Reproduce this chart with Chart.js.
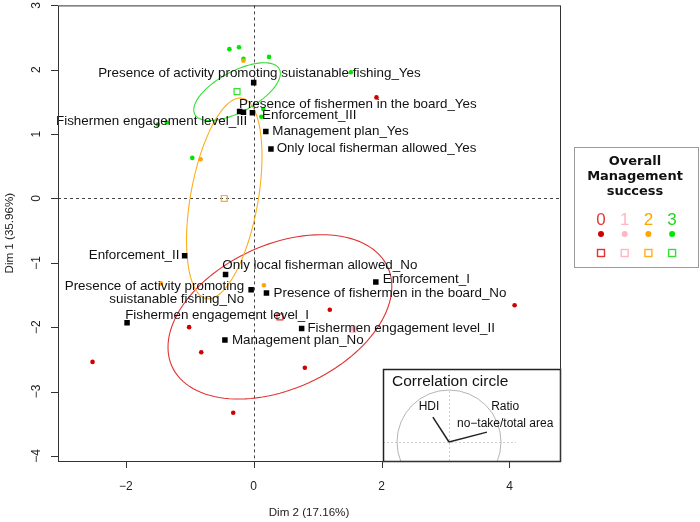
<!DOCTYPE html>
<html>
<head>
<meta charset="utf-8">
<script src="https://cdn.jsdelivr.net/npm/chart.js@4.4.1/dist/chart.umd.min.js"></script>
<style>
  html, body { margin: 0; padding: 0; background: #fff; }
  #wrap { width: 700px; height: 522px; }
</style>
</head>
<body>
<div id="wrap"><canvas id="mca"></canvas></div>
<script>
// ── Individuals (Dim 2 = x, Dim 1 = y), one pair of arrays per success group ──
const groups = ['0', '1', '2', '3'];

const ind0Dim2 = [1.92, 1.19, 4.08, -1.01, -0.82, -2.52, 0.80, -0.32];
const ind0Dim1 = [1.57, -1.73, -1.66, -2.00, -2.39, -2.54, -2.63, -3.33];
const ind1Dim2 = [1.55];
const ind1Dim1 = [-2.03];
const ind2Dim2 = [-0.16, -0.83, -1.45, 0.16];
const ind2Dim1 = [2.14, 0.61, -1.32, -1.35];
const ind3Dim2 = [-0.38, -0.23, -0.16, 0.24, 1.52, 0.15, 0.12, -1.36, -1.50, -0.96];
const ind3Dim1 = [2.32, 2.35, 2.17, 2.20, 1.96, 1.39, 1.27, 1.18, 1.15, 0.63];

// group centroids (hollow squares) and confidence ellipses (half extents + correlation)
const centroidDim2 = [0.41, 1.55, -0.46, -0.26];
const centroidDim1 = [-1.84, -2.03, 0.00, 1.66];
const ellipseHalfDim2 = [1.75, null, 0.59, 0.677];
const ellipseHalfDim1 = [1.277, null, 1.56, 0.449];
const ellipseCorr = [0.37, null, 0.42, 0.63];

// ── Variable categories ──
const catNames = [
  'Presence of activity promoting suistanable fishing_Yes',
  'Fishermen engagement level_III',
  'Presence of fishermen in the board_Yes',
  'Enforcement_III',
  'Management plan_Yes',
  'Only local fisherman allowed_Yes',
  'Enforcement_II',
  'Only local fisherman allowed_No',
  'Presence of activity promoting\nsuistanable fishing_No',
  'Presence of fishermen in the board_No',
  'Enforcement_I',
  'Fishermen engagement level_I',
  'Fishermen engagement level_II',
  'Management plan_No',
];
const catDim2 = [0.00, -0.22, -0.16, -0.02, 0.19, 0.27, -1.08, -0.44, -0.04, 0.20, 1.91, -1.98, 0.75, -0.45];
const catDim1 = [1.80, 1.35, 1.34, 1.33, 1.04, 0.77, -0.89, -1.18, -1.42, -1.47, -1.30, -1.93, -2.02, -2.20];
// where each label was put (data units), as the label placer left them
const labelDim2 = [0.09, -0.10, -0.23, 0.13, 0.29, 0.36, -1.16, -0.49, -0.15, 0.31, 2.02, -2.01, 0.84, -0.34];
const labelDim1 = [1.94, 1.20, 1.47, 1.29, 1.04, 0.78, -0.89, -1.04, -1.47, -1.48, -1.26, -1.82, -2.02, -2.20];
const labelAlign = ['center', 'right', 'left', 'left', 'left', 'left', 'right', 'left', 'right', 'left', 'left', 'left', 'left', 'left'];

// ── Correlation circle ──
const corrNames = ['HDI', 'Ratio\nno\u2212take/total area'];
const corrDim2 = [-0.31, 0.73];
const corrDim1 = [0.48, 0.19];
const corrLabelDim2 = [-0.385, 1.08];
const corrLabelDim1 = [0.673, 0.51];

// ── Axes ──
const xTicks = [-2, 0, 2, 4];
const yTicks = [-4, -3, -2, -1, 0, 1, 2, 3];
const xTitle = 'Dim 2 (17.16%)';
const yTitle = 'Dim 1 (35.96%)';
const legendTitle = ['Overall', 'Management', 'success'];

// ─────────────────────────────────────────────────────────────────────────────

const FONT = '"Liberation Sans", Arial, sans-serif';
const DOT_COLORS = ['#d10000', '#ffb6c1', '#ffa500', '#00e600'];
const LINE_COLORS = ['#e03333', '#ffb6c1', '#ffae1a', '#33e033'];
const NUM_COLORS = ['#e03a3a', '#ffb6c1', '#ffa500', '#22d622'];

const pts = (xs, ys) => xs.map((v, i) => ({ x: v, y: ys[i] }));
const indDim2 = [ind0Dim2, ind1Dim2, ind2Dim2, ind3Dim2];
const indDim1 = [ind0Dim1, ind1Dim1, ind2Dim1, ind3Dim1];

const datasets = [
  {
    label: 'categories',
    data: pts(catDim2, catDim1),
    pointStyle: 'rect',
    pointRadius: 3.9,
    backgroundColor: '#000',
    borderColor: '#000',
    borderWidth: 0,
  },
  ...groups.map((g, i) => ({
    label: 'centroid ' + g,
    data: [{ x: centroidDim2[i], y: centroidDim1[i] }],
    pointStyle: 'rect',
    pointRadius: 4.2,
    backgroundColor: 'rgba(0,0,0,0)',
    borderColor: LINE_COLORS[i],
    borderWidth: 1.2,
  })),
  ...groups.map((g, i) => ({
    label: 'group ' + g,
    data: pts(indDim2[i], indDim1[i]),
    pointStyle: 'circle',
    pointRadius: 2.3,
    backgroundColor: DOT_COLORS[i],
    borderWidth: 0,
  })),
];

function drawText(ctx, text, x, y, align, lh) {
  const lines = text.split('\n');
  ctx.textAlign = align;
  lines.forEach((l, k) => ctx.fillText(l, x, y + (k - (lines.length - 1) / 2) * lh));
}

const background = {
  id: 'background',
  beforeDatasetsDraw(chart) {
    const { ctx, chartArea: a, scales: { x, y } } = chart;
    ctx.save();
    ctx.strokeStyle = '#444';
    ctx.lineWidth = 1;
    ctx.setLineDash([3, 3]);
    const x0 = Math.round(x.getPixelForValue(0)) + 0.5;
    const y0 = Math.round(y.getPixelForValue(0)) + 0.5;
    ctx.beginPath();
    ctx.moveTo(x0, a.top); ctx.lineTo(x0, a.bottom);
    ctx.moveTo(a.left, y0); ctx.lineTo(a.right, y0);
    ctx.stroke();
    ctx.setLineDash([]);

    ellipseHalfDim2.forEach((hx, g) => {
      if (hx == null) return;
      const hy = ellipseHalfDim1[g], r = ellipseCorr[g], s = Math.sqrt(1 - r * r);
      ctx.strokeStyle = LINE_COLORS[g];
      ctx.lineWidth = 1.1;
      ctx.beginPath();
      for (let i = 0; i <= 120; i++) {
        const t = i / 120 * 2 * Math.PI;
        const px = x.getPixelForValue(centroidDim2[g] + hx * Math.cos(t));
        const py = y.getPixelForValue(centroidDim1[g] + hy * (r * Math.cos(t) + s * Math.sin(t)));
        i ? ctx.lineTo(px, py) : ctx.moveTo(px, py);
      }
      ctx.closePath();
      ctx.stroke();
    });
    ctx.restore();
  },
};

const annotations = {
  id: 'annotations',
  afterDatasetsDraw(chart) {
    const { ctx, chartArea: a, scales: { x, y } } = chart;
    ctx.save();

    // category labels
    ctx.fillStyle = '#111';
    ctx.font = '13.4px ' + FONT;
    ctx.textBaseline = 'middle';
    catNames.forEach((name, i) => {
      drawText(ctx, name, x.getPixelForValue(labelDim2[i]), y.getPixelForValue(labelDim1[i]), labelAlign[i], 12.8);
    });

    // correlation circle inset
    const bx = 383, by = 369;
    ctx.save();
    ctx.beginPath();
    ctx.rect(bx, by, a.right - bx, a.bottom - by);
    ctx.clip();
    ctx.fillStyle = '#fff';
    ctx.fillRect(bx, by, a.right - bx, a.bottom - by);
    const cx = 449, cy = 442, R = 52;
    ctx.strokeStyle = '#cfcfcf';
    ctx.lineWidth = 1;
    ctx.setLineDash([2, 2]);
    ctx.beginPath();
    ctx.moveTo(bx, cy + 0.5); ctx.lineTo(cx + 67, cy + 0.5);
    ctx.moveTo(cx + 0.5, by + 22); ctx.lineTo(cx + 0.5, a.bottom);
    ctx.stroke();
    ctx.setLineDash([]);
    ctx.strokeStyle = '#b5b5b5';
    ctx.beginPath();
    ctx.arc(cx, cy, R, 0, 2 * Math.PI);
    ctx.stroke();
    ctx.strokeStyle = '#222';
    ctx.lineWidth = 1.5;
    corrNames.forEach((n, i) => {
      ctx.beginPath();
      ctx.moveTo(cx, cy);
      ctx.lineTo(cx + corrDim2[i] * R, cy - corrDim1[i] * R);
      ctx.stroke();
    });
    ctx.fillStyle = '#111';
    ctx.font = '12px ' + FONT;
    ctx.textBaseline = 'middle';
    corrNames.forEach((n, i) => {
      drawText(ctx, n, cx + corrLabelDim2[i] * R, cy - corrLabelDim1[i] * R, 'center', 17);
    });
    ctx.font = '15.5px ' + FONT;
    ctx.textAlign = 'left';
    ctx.fillText('Correlation circle', bx + 9, by + 12.5);
    ctx.restore();
    ctx.strokeStyle = '#222';
    ctx.lineWidth = 1.5;
    ctx.strokeRect(bx + 0.5, by + 0.5, a.right - bx, a.bottom - by);

    // plot frame, ticks, tick labels, titles
    ctx.strokeStyle = '#333';
    ctx.lineWidth = 1;
    ctx.strokeRect(a.left + 0.5, a.top + 0.5, a.right - a.left, a.bottom - a.top);
    ctx.beginPath();
    xTicks.forEach(v => {
      const p = Math.round(x.getPixelForValue(v)) + 0.5;
      ctx.moveTo(p, a.bottom); ctx.lineTo(p, a.bottom + 7);
    });
    yTicks.forEach(v => {
      const p = Math.round(y.getPixelForValue(v)) + 0.5;
      ctx.moveTo(a.left, p); ctx.lineTo(a.left - 7, p);
    });
    ctx.stroke();

    ctx.fillStyle = '#222';
    ctx.font = '12px ' + FONT;
    ctx.textAlign = 'center';
    ctx.textBaseline = 'middle';
    const fmt = v => (v < 0 ? '\u2212' + Math.abs(v) : String(v));
    xTicks.forEach(v => ctx.fillText(fmt(v), x.getPixelForValue(v), a.bottom + 26));
    yTicks.forEach(v => {
      ctx.save();
      ctx.translate(a.left - 21, y.getPixelForValue(v));
      ctx.rotate(-Math.PI / 2);
      ctx.fillText(fmt(v), 0, 0);
      ctx.restore();
    });
    ctx.font = '11.6px ' + FONT;
    ctx.fillText(xTitle, (a.left + a.right) / 2, a.bottom + 52);
    ctx.save();
    ctx.translate(10, (a.top + a.bottom) / 2);
    ctx.rotate(-Math.PI / 2);
    ctx.fillText(yTitle, 0, 0);
    ctx.restore();

    // legend box
    const lx = 574, ly = 147, lw = 124, lh = 120, mid = lx + lw / 2 - 1;
    ctx.strokeStyle = '#9a9a9a';
    ctx.lineWidth = 1;
    ctx.strokeRect(lx + 0.5, ly + 0.5, lw, lh);
    ctx.fillStyle = '#111';
    ctx.font = 'bold 13px "DejaVu Sans", Verdana, sans-serif';
    legendTitle.forEach((t, k) => ctx.fillText(t, mid, ly + 15 + k * 15));
    groups.forEach((g, i) => {
      const gx = 601 + i * 23.7;
      ctx.fillStyle = NUM_COLORS[i];
      ctx.font = '17px ' + FONT;
      ctx.fillText(g, gx, 220);
      ctx.fillStyle = DOT_COLORS[i];
      ctx.beginPath();
      ctx.arc(gx, 234, 3, 0, 2 * Math.PI);
      ctx.fill();
      ctx.strokeStyle = LINE_COLORS[i];
      ctx.lineWidth = 1.4;
      ctx.strokeRect(gx - 3.5, 249.5, 7, 7);
    });
    ctx.restore();
  },
};

new Chart(document.getElementById('mca'), {
  type: 'scatter',
  data: { datasets },
  options: {
    responsive: true,
    maintainAspectRatio: false,
    animation: false,
    events: [],
    layout: { padding: { left: 58, top: 3, right: 140, bottom: 61 } },
    plugins: { legend: { display: false }, tooltip: { enabled: false } },
    scales: {
      x: { type: 'linear', min: -3.06, max: 4.79, display: false },
      y: { type: 'linear', min: -4.08, max: 3.0, display: false },
    },
  },
  plugins: [background, annotations],
});
</script>
</body>
</html>
